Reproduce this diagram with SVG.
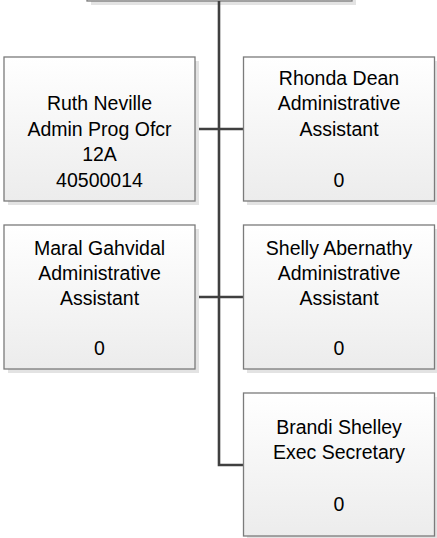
<svg xmlns="http://www.w3.org/2000/svg" width="437" height="538" viewBox="0 0 437 538">
  <defs>
    <linearGradient id="fill" x1="0" y1="0" x2="0" y2="1">
      <stop offset="0" stop-color="#ffffff"/>
      <stop offset="1" stop-color="#ececec"/>
    </linearGradient>
    <style>
      .shadow { fill: #e3e3e3; }
      .box { fill: url(#fill); stroke: #7b7b7b; stroke-width: 1.3; }
      .conn { fill: none; stroke: #404040; stroke-width: 2.6; }
      text { font-family: "Liberation Sans", Arial, sans-serif; font-size: 19.5px; fill: #000; text-anchor: middle; }
    </style>
  </defs>
  <rect width="437" height="538" fill="#ffffff"/>

  <g id="top">
    <rect class="shadow" x="91" y="-96" width="265" height="101"/>
    <rect class="box" x="87" y="-100" width="265" height="101"/>
  </g>

  <g id="connectors">
    <path class="conn" d="M219,1 V465 H244"/>
    <path class="conn" d="M195,129 H244"/>
    <path class="conn" d="M195,297 H244"/>
  </g>

  <g id="ruth">
    <rect class="shadow" x="8" y="61" width="191" height="144"/>
    <rect class="box" x="4" y="57" width="191" height="144"/>
    <text x="99.5" y="110.4">Ruth Neville</text>
    <text x="99.5" y="135.8">Admin Prog Ofcr</text>
    <text x="99.5" y="161.2">12A</text>
    <text x="99.5" y="186.6">40500014</text>
  </g>

  <g id="rhonda">
    <rect class="shadow" x="247" y="61" width="191" height="144"/>
    <rect class="box" x="243.5" y="57" width="191" height="144"/>
    <text x="339" y="85">Rhonda Dean</text>
    <text x="339" y="110.4">Administrative</text>
    <text x="339" y="135.8">Assistant</text>
    <text x="339" y="186.6">0</text>
  </g>

  <g id="maral">
    <rect class="shadow" x="8" y="229" width="191" height="144"/>
    <rect class="box" x="4" y="225" width="191" height="144"/>
    <text x="99.5" y="254.5">Maral Gahvidal</text>
    <text x="99.5" y="279.9">Administrative</text>
    <text x="99.5" y="305.3">Assistant</text>
    <text x="99.5" y="354.5">0</text>
  </g>

  <g id="shelly">
    <rect class="shadow" x="247" y="229" width="191" height="144"/>
    <rect class="box" x="243.5" y="225" width="191" height="144"/>
    <text x="339" y="254.5">Shelly Abernathy</text>
    <text x="339" y="279.9">Administrative</text>
    <text x="339" y="305.3">Assistant</text>
    <text x="339" y="354.5">0</text>
  </g>

  <g id="brandi">
    <rect class="shadow" x="247" y="397" width="191" height="144"/>
    <rect class="box" x="243.5" y="393" width="191" height="143"/>
    <text x="339" y="433.8">Brandi Shelley</text>
    <text x="339" y="459.2">Exec Secretary</text>
    <text x="339" y="510.8">0</text>
  </g>
</svg>
